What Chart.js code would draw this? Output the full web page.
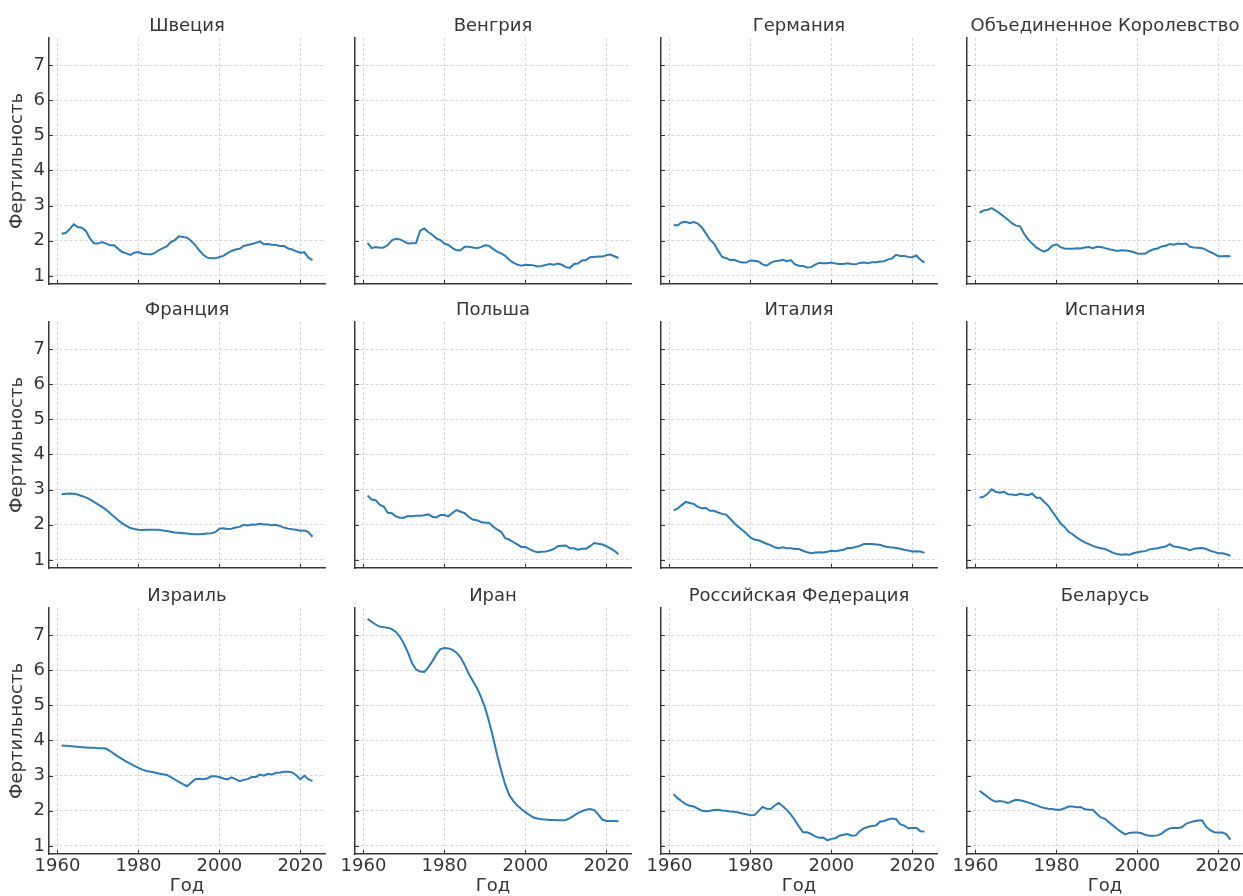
<!DOCTYPE html>
<html><head><meta charset="utf-8">
<script src="https://cdn.jsdelivr.net/npm/chart.js@4/dist/chart.umd.min.js"></script>
<style>
html,body{margin:0;padding:0;background:#fff;width:1243px;height:896px;overflow:hidden;position:relative}
canvas{position:absolute}
</style></head><body>
<script>
const years = [1961,1962,1963,1964,1965,1966,1967,1968,1969,1970,
1971,1972,1973,1974,1975,1976,1977,1978,1979,1980,
1981,1982,1983,1984,1985,1986,1987,1988,1989,1990,
1991,1992,1993,1994,1995,1996,1997,1998,1999,2000,
2001,2002,2003,2004,2005,2006,2007,2008,2009,2010,
2011,2012,2013,2014,2015,2016,2017,2018,2019,2020,
2021,2022,2023];

const sweden = [2.20,2.22,2.33,2.47,2.39,2.37,2.28,2.07,1.93,1.92,
1.96,1.92,1.87,1.87,1.77,1.68,1.64,1.60,1.66,1.68,
1.63,1.62,1.61,1.65,1.73,1.79,1.84,1.96,2.02,2.13,
2.11,2.09,2.00,1.88,1.73,1.60,1.52,1.50,1.50,1.54,
1.57,1.65,1.71,1.75,1.77,1.85,1.88,1.91,1.94,1.98,
1.90,1.91,1.89,1.88,1.85,1.85,1.78,1.75,1.70,1.66,
1.67,1.52,1.45];
const hungary = [1.94,1.79,1.82,1.80,1.81,1.88,2.01,2.06,2.04,1.98,
1.92,1.93,1.94,2.29,2.35,2.25,2.17,2.07,2.02,1.92,
1.88,1.79,1.73,1.73,1.83,1.83,1.81,1.79,1.82,1.87,
1.86,1.77,1.69,1.64,1.57,1.46,1.38,1.32,1.29,1.32,
1.31,1.30,1.27,1.28,1.31,1.34,1.32,1.35,1.32,1.25,
1.23,1.34,1.35,1.44,1.45,1.53,1.54,1.55,1.55,1.59,
1.61,1.56,1.51];
const germany = [2.44,2.44,2.52,2.54,2.50,2.53,2.49,2.38,2.21,2.03,
1.92,1.72,1.54,1.51,1.45,1.46,1.41,1.38,1.38,1.44,
1.43,1.41,1.33,1.29,1.37,1.42,1.43,1.46,1.42,1.45,
1.33,1.29,1.28,1.24,1.25,1.32,1.37,1.36,1.36,1.38,
1.35,1.34,1.34,1.36,1.34,1.33,1.37,1.38,1.36,1.39,
1.39,1.41,1.42,1.47,1.50,1.60,1.57,1.57,1.54,1.53,
1.58,1.46,1.38];
const uk = [2.80,2.86,2.88,2.93,2.86,2.78,2.69,2.60,2.50,2.43,
2.41,2.20,2.04,1.92,1.81,1.74,1.69,1.75,1.86,1.90,
1.82,1.78,1.77,1.77,1.79,1.78,1.81,1.82,1.79,1.83,
1.82,1.79,1.76,1.74,1.71,1.73,1.72,1.71,1.68,1.64,
1.63,1.64,1.71,1.76,1.78,1.84,1.86,1.91,1.89,1.92,
1.91,1.92,1.83,1.81,1.80,1.79,1.74,1.68,1.63,1.56,
1.56,1.57,1.56];
const france = [2.87,2.88,2.89,2.88,2.86,2.82,2.78,2.72,2.65,2.58,
2.51,2.43,2.33,2.23,2.13,2.04,1.97,1.91,1.88,1.86,
1.85,1.86,1.86,1.86,1.86,1.84,1.82,1.80,1.78,1.77,
1.76,1.75,1.74,1.73,1.73,1.74,1.75,1.76,1.79,1.89,
1.90,1.88,1.89,1.92,1.94,2.00,1.98,2.01,2.00,2.03,
2.01,2.01,1.99,2.00,1.96,1.92,1.89,1.87,1.86,1.83,
1.84,1.79,1.66];
const poland = [2.83,2.72,2.70,2.57,2.52,2.34,2.33,2.24,2.20,2.20,
2.25,2.24,2.26,2.26,2.27,2.30,2.23,2.21,2.28,2.28,
2.24,2.34,2.42,2.37,2.33,2.22,2.15,2.13,2.08,2.06,
2.06,1.95,1.87,1.80,1.62,1.58,1.51,1.44,1.37,1.37,
1.31,1.25,1.22,1.23,1.24,1.27,1.31,1.39,1.40,1.41,
1.33,1.33,1.29,1.32,1.32,1.39,1.48,1.46,1.44,1.39,
1.33,1.26,1.16];
const italy = [2.41,2.46,2.56,2.65,2.62,2.59,2.51,2.47,2.48,2.40,
2.40,2.35,2.31,2.29,2.17,2.05,1.94,1.85,1.75,1.64,
1.58,1.56,1.51,1.46,1.42,1.36,1.33,1.36,1.33,1.33,
1.31,1.31,1.26,1.22,1.19,1.21,1.22,1.21,1.23,1.26,
1.25,1.27,1.29,1.34,1.34,1.37,1.40,1.45,1.45,1.45,
1.44,1.43,1.39,1.37,1.35,1.34,1.32,1.29,1.27,1.24,
1.25,1.24,1.20];
const spain = [2.77,2.80,2.88,3.01,2.94,2.91,2.94,2.87,2.86,2.84,
2.88,2.86,2.84,2.89,2.77,2.77,2.65,2.54,2.37,2.21,
2.04,1.94,1.80,1.73,1.64,1.56,1.50,1.45,1.40,1.36,
1.33,1.31,1.26,1.20,1.17,1.15,1.16,1.15,1.19,1.22,
1.24,1.25,1.30,1.32,1.33,1.36,1.38,1.45,1.38,1.37,
1.34,1.32,1.27,1.32,1.33,1.34,1.31,1.26,1.23,1.19,
1.19,1.16,1.12];
const israel = [3.86,3.85,3.84,3.83,3.82,3.81,3.80,3.79,3.79,3.78,
3.78,3.77,3.70,3.62,3.54,3.47,3.40,3.34,3.28,3.22,
3.17,3.13,3.11,3.09,3.06,3.04,3.02,2.96,2.89,2.82,
2.76,2.70,2.80,2.90,2.91,2.90,2.92,2.98,2.98,2.96,
2.92,2.89,2.95,2.90,2.84,2.88,2.90,2.96,2.96,3.03,
3.00,3.05,3.03,3.08,3.09,3.11,3.11,3.09,3.01,2.90,
3.00,2.89,2.85];
const iran = [7.46,7.38,7.30,7.24,7.22,7.21,7.17,7.09,6.95,6.75,
6.50,6.20,6.02,5.96,5.95,6.08,6.25,6.45,6.60,6.63,
6.62,6.58,6.50,6.36,6.15,5.90,5.70,5.50,5.25,4.95,
4.55,4.10,3.60,3.15,2.75,2.45,2.28,2.15,2.05,1.96,
1.88,1.81,1.78,1.76,1.75,1.74,1.74,1.73,1.73,1.74,
1.79,1.86,1.93,1.99,2.03,2.05,2.02,1.90,1.75,1.71,
1.71,1.71,1.70];
const russia = [2.47,2.36,2.27,2.19,2.14,2.12,2.06,2.00,1.99,2.00,
2.02,2.03,2.01,2.00,1.98,1.97,1.95,1.92,1.90,1.87,
1.88,1.99,2.11,2.06,2.05,2.15,2.22,2.13,2.02,1.89,
1.73,1.55,1.39,1.39,1.34,1.27,1.23,1.24,1.16,1.20,
1.22,1.29,1.32,1.34,1.29,1.30,1.42,1.50,1.54,1.57,
1.58,1.69,1.71,1.75,1.78,1.76,1.62,1.58,1.50,1.51,
1.51,1.42,1.41];
const belarus = [2.57,2.48,2.39,2.31,2.26,2.28,2.26,2.22,2.27,2.31,
2.30,2.27,2.24,2.20,2.16,2.11,2.08,2.06,2.05,2.03,
2.03,2.07,2.12,2.12,2.10,2.11,2.04,2.03,2.03,1.91,
1.81,1.77,1.67,1.58,1.48,1.40,1.33,1.37,1.38,1.38,
1.36,1.31,1.29,1.29,1.30,1.35,1.44,1.50,1.52,1.51,
1.53,1.63,1.67,1.70,1.72,1.73,1.54,1.45,1.39,1.38,
1.38,1.33,1.18];

const countryNames = ['Швеция','Венгрия','Германия','Объединенное Королевство',
  'Франция','Польша','Италия','Испания',
  'Израиль','Иран','Российская Федерация','Беларусь'];
const countrySeries = [sweden,hungary,germany,uk,france,poland,italy,spain,israel,iran,russia,belarus];
const yTickValues = [1,2,3,4,5,6,7];
const xTickValues = [1960,1980,2000,2020];
const xAxisTitle = 'Год';
const yAxisTitle = 'Фертильность';

// layout
const colSpine = [49, 355, 661, 967];
const rowTop = [38, 322, 608];
const PLOT_W = 276, PLOT_H = 246, LEFT_W = 49, TOP_H = 38, CANVAS_H = 327;
const TEXT = '#363636', LINE = '#2c7bba', GRID = '#cccccc';
const FONT = 'DejaVu Sans';
const FS = 18;

const inwardTicks = {
  id: 'inwardTicks',
  afterDraw(chart) {
    const ctx = chart.ctx, xs = chart.scales.x, ys = chart.scales.y, a = chart.chartArea;
    ctx.save();
    ctx.strokeStyle = TEXT; ctx.lineWidth = 1;
    ctx.beginPath();
    xs.ticks.forEach(t => { const px = Math.round(xs.getPixelForValue(t.value)) + 0.5; ctx.moveTo(px, a.bottom); ctx.lineTo(px, a.bottom - 4); });
    ys.ticks.forEach(t => { const py = Math.round(ys.getPixelForValue(t.value)) + 0.5; ctx.moveTo(a.left, py); ctx.lineTo(a.left + 4, py); });
    ctx.stroke();
    ctx.restore();
  }
};

countryNames.forEach((name, i) => {
  const col = i % 4, row = Math.floor(i / 4);
  const cv = document.createElement('canvas');
  const left = colSpine[col] - LEFT_W, top = rowTop[row] - TOP_H;
  const W = 330;
  cv.width = W; cv.height = CANVAS_H;
  cv.style.left = left + 'px'; cv.style.top = top + 'px';
  cv.style.width = W + 'px'; cv.style.height = CANVAS_H + 'px';
  document.body.appendChild(cv);
  const showY = col === 0, showX = row === 2;
  const vals = countrySeries[i];
  new Chart(cv, {
    type: 'line',
    data: { datasets: [{ data: years.map((y, k) => ({x: y, y: vals[k]})), borderColor: LINE, borderWidth: 2, pointRadius: 0, tension: 0, fill: false }] },
    options: {
      responsive: false, animation: false, devicePixelRatio: 1,
      layout: { autoPadding: false, padding: { left: 0, top: 0, bottom: 0, right: W - LEFT_W - PLOT_W } },
      plugins: {
        legend: { display: false }, tooltip: { enabled: false },
        title: { display: true, fullSize: false, text: name, color: TEXT, font: { family: FONT, size: FS, weight: 'normal', lineHeight: 1.25 }, padding: { top: 15, bottom: 0.5 } }
      },
      scales: {
        x: {
          type: 'linear', min: 1957.9, max: 2026.1,
          afterFit: s => { s.height = CANVAS_H - TOP_H - PLOT_H; },
          afterBuildTicks: s => { s.ticks = xTickValues.map(v => ({value: v})); },
          ticks: { display: showX, includeBounds: false, stepSize: 20, maxRotation: 0, autoSkip: false, padding: 2, color: TEXT, font: { family: FONT, size: FS }, callback: v => String(v) },
          grid: { color: GRID, lineWidth: 0.8, drawTicks: false },
          border: { display: true, color: TEXT, width: 1.5, dash: [3, 2] },
          title: { display: showX, text: xAxisTitle, color: TEXT, font: { family: FONT, size: FS }, padding: { top: 0, bottom: 0 } }
        },
        y: {
          type: 'linear', min: 0.77, max: 7.77,
          afterFit: s => { s.width = LEFT_W; },
          afterBuildTicks: s => { s.ticks = yTickValues.map(v => ({value: v})); },
          ticks: { display: showY, includeBounds: false, stepSize: 1, padding: 4, color: TEXT, font: { family: FONT, size: FS } },
          grid: { color: GRID, lineWidth: 0.8, drawTicks: false },
          border: { display: true, color: TEXT, width: 1.5, dash: [3, 2] },
          title: { display: showY, text: yAxisTitle, color: TEXT, font: { family: FONT, size: FS }, padding: { top: 7, bottom: 0 } }
        }
      }
    },
    plugins: [inwardTicks]
  });
});
</script>
</body></html>
